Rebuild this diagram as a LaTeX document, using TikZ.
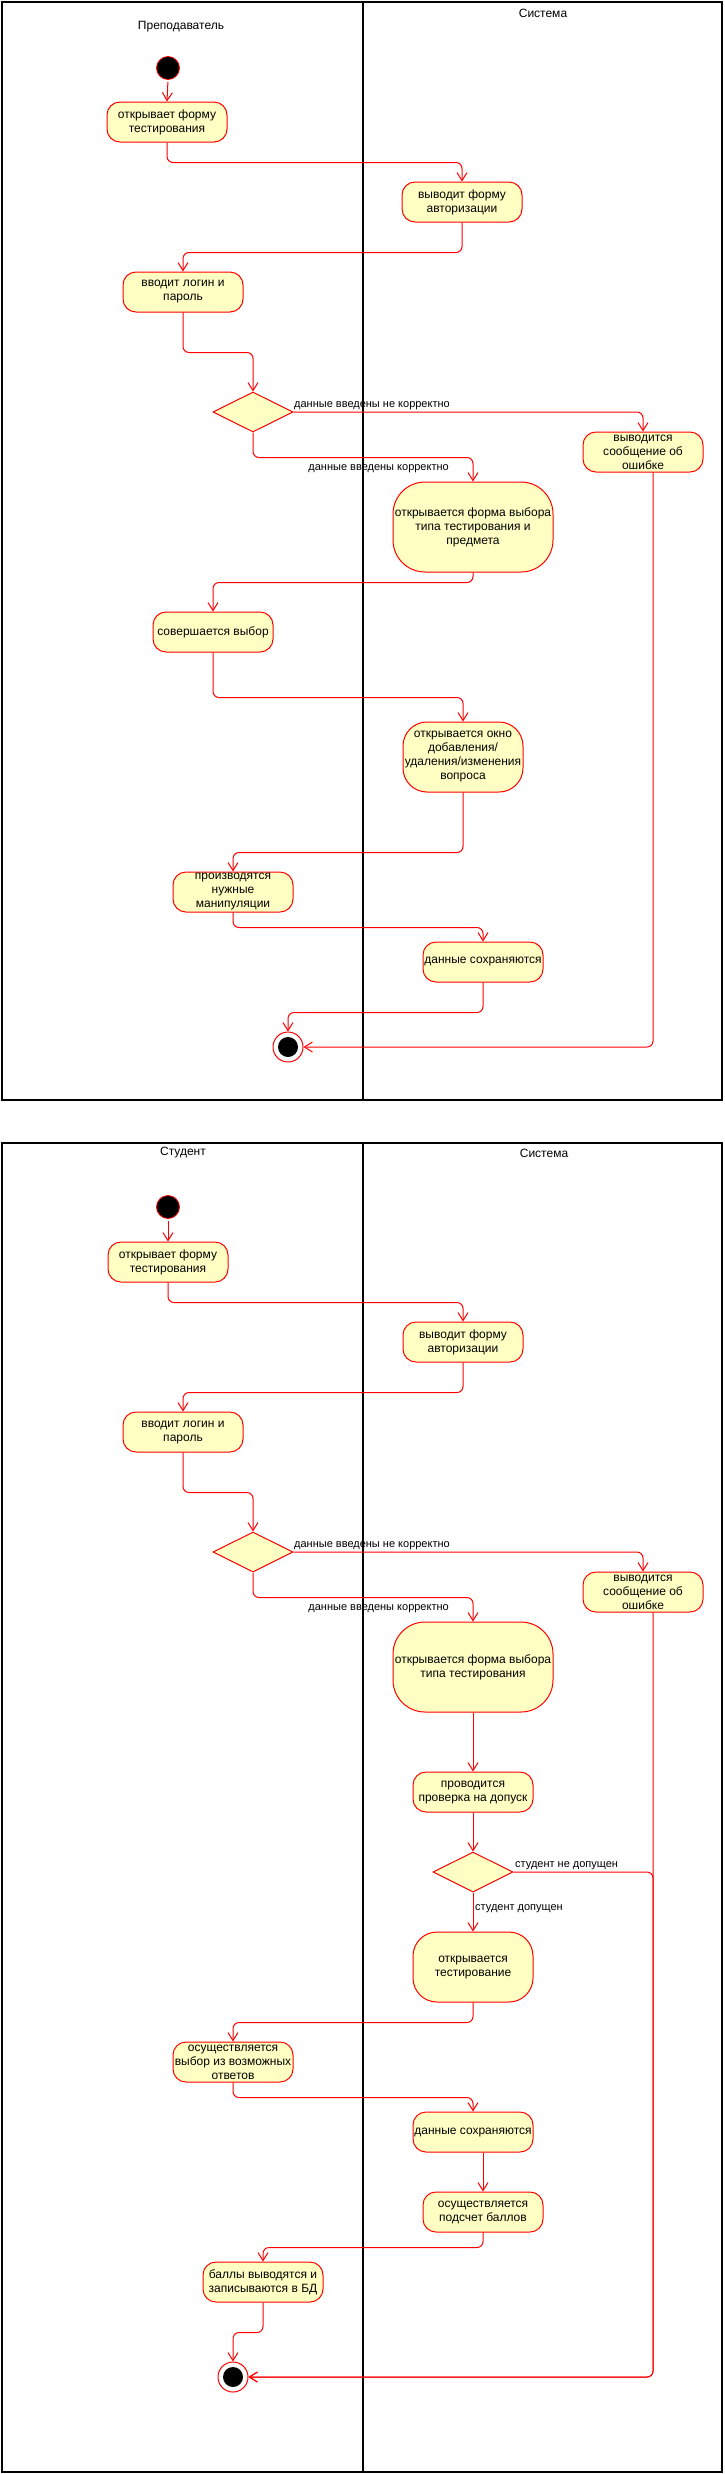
\documentclass[tikz,border=0pt]{standalone}
\usepackage{fontspec}
\setmainfont{Liberation Sans}
\usetikzlibrary{shapes.geometric,arrows.meta}
\definecolor{actfill}{HTML}{FFFFC4}
\newcommand\bxf{\fontsize{12}{14}\selectfont}
\newcommand\lbf{\fontsize{11}{13}\selectfont}
\newcommand\hdf{\fontsize{12}{14}\selectfont}
\begin{document}
\begin{tikzpicture}[x=1pt,y=-1pt,
  act/.style={draw=red, fill=actfill, line width=1pt, align=center, inner sep=0pt, font=\bxf, text=black},
  a40/.style={act, minimum width=120pt, minimum height=40pt, rounded corners=13pt},
  a70/.style={act, minimum width=120pt, minimum height=70pt, rounded corners=24pt},
  a90/.style={act, minimum width=160pt, minimum height=90pt, rounded corners=32pt},
  dec/.style={diamond, draw=red, fill=actfill, line width=1pt, minimum width=80pt, minimum height=40pt, inner sep=0pt, aspect=2},
  startn/.style={circle, fill=black, draw=red, line width=0.8pt, minimum size=23pt, inner sep=0pt},
  fin/.style={circle, draw=red, fill=white, line width=1pt, minimum size=30pt, inner sep=0pt,
    path picture={\fill[black] (path picture bounding box.center) circle (10pt);}},
  flow/.style={draw=red, line width=1pt, rounded corners=6pt, -{Straight Barb[length=8pt,width=10pt]}},
  lbl/.style={font=\lbf, text=black, inner sep=0pt},
  hdr/.style={font=\hdf, text=black, inner sep=0pt},
  lane/.style={draw=black, line width=1.2pt}
]
\useasboundingbox (0,0) rectangle (724,2474);
\fill[white] (0,0) rectangle (724,2474);

% ---------- top diagram ----------
\draw[lane] (2,2) rectangle (722,1100);
\draw[lane] (363,2) -- (363,1100);
\node[hdr] (h1) at (181,27) {Преподаватель};
\node[hdr] (h2) at (543,13) {Система};

\node[startn] (s1) at (168,68) {};
\node[a40] (a1) at (167,122) {открывает форму\\тестирования};
\node[a40] (a2) at (462,202) {выводит форму\\авторизации};
\node[a40] (a3) at (183,292) {вводит логин и\\пароль};
\node[dec] (d1) at (253,412) {};
\node[a40] (err) at (643,452) {выводится\\сообщение об\\ошибке};
\node[a90] (a4) at (473,527) {открывается форма выбора\\типа тестирования и\\предмета};
\node[a40] (a5) at (213,632) {совершается выбор};
\node[a70] (a6) at (463,757) {открывается окно\\добавления/\\удаления/изменения\\вопроса};
\node[a40] (a7) at (233,892) {производятся\\нужные\\манипуляции};
\node[a40] (a8) at (483,962) {данные сохраняются};
\node[fin] (f1) at (288,1047) {};

\draw[flow, shorten <=2pt] (s1.south) -- (a1.north);
\draw[flow] (a1.south) -- ++(0,20) -| (a2.north);
\draw[flow] (a2.south) -- ++(0,30) -| (a3.north);
\draw[flow] (a3.south) -- ++(0,40) -| (d1.north);
\draw[flow] (d1.east) -| (err.north);
\node[lbl, anchor=base west] (l1) at (294,407) {данные введены не корректно};
\draw[flow] (d1.south) -- ++(0,25) -| (a4.north);
\node[lbl, anchor=base east] (l2) at (449,470) {данные введены корректно};
\draw[flow] (a4.south) -- ++(0,10) -| (a5.north);
\draw[flow] (a5.south) -- ++(0,45) -| (a6.north);
\draw[flow] (a6.south) -- ++(0,60) -| (a7.north);
\draw[flow] (a7.south) -- ++(0,15) -| (a8.north);
\draw[flow] (a8.south) -- ++(0,30) -| (f1.north);
\draw[flow] ([xshift=10pt]err.south) |- (f1.east);

% ---------- bottom diagram ----------
\draw[lane] (2,1143) rectangle (722,2472);
\draw[lane] (363,1143) -- (363,2472);
\node[hdr] (h3) at (183,1153) {Студент};
\node[hdr] (h4) at (544,1153) {Система};

\node[startn] (s2) at (168,1207) {};
\node[a40] (b1) at (168,1262) {открывает форму\\тестирования};
\node[a40] (b2) at (463,1342) {выводит форму\\авторизации};
\node[a40] (b3) at (183,1432) {вводит логин и\\пароль};
\node[dec] (d2) at (253,1552) {};
\node[a40] (err2) at (643,1592) {выводится\\сообщение об\\ошибке};
\node[a90] (b4) at (473,1667) {открывается форма выбора\\типа тестирования};
\node[a40] (b5) at (473,1792) {проводится\\проверка на допуск};
\node[dec] (d3) at (473,1872) {};
\node[a70] (b6) at (473,1967) {открывается\\тестирование};
\node[a40] (b7) at (233,2062) {осуществляется\\выбор из возможных\\ответов};
\node[a40] (b8) at (473,2132) {данные сохраняются};
\node[a40] (b9) at (483,2212) {осуществляется\\подсчет баллов};
\node[a40] (b10) at (263,2282) {баллы выводятся и\\записываются в БД};
\node[fin] (f2) at (233,2377) {};
\coordinate (nj) at (653,1872);

\draw[flow, shorten <=2pt] (s2.south) -- (b1.north);
\draw[flow] (b1.south) -- ++(0,20) -| (b2.north);
\draw[flow] (b2.south) -- ++(0,30) -| (b3.north);
\draw[flow] (b3.south) -- ++(0,40) -| (d2.north);
\draw[flow] (d2.east) -| (err2.north);
\node[lbl, anchor=base west] (l3) at (294,1547) {данные введены не корректно};
\draw[flow] (d2.south) -- ++(0,25) -| (b4.north);
\node[lbl, anchor=base east] (l4) at (449,1610) {данные введены корректно};
\draw[flow] ([xshift=10pt]err2.south) |- (f2.east);
\draw[flow] (b4.south) -- (b5.north);
\draw[flow] (b5.south) -- (d3.north);
\draw[flow] (d3.east) -- (nj) |- (f2.east);
\node[lbl, anchor=base west] (l5) at (515,1867) {студент не допущен};
\draw[flow] (d3.south) -- (b6.north);
\node[lbl, anchor=base west] (l6) at (475,1910) {студент допущен};
\draw[flow] (b6.south) -- ++(0,20) -| (b7.north);
\draw[flow] (b7.south) -- ++(0,15) -| (b8.north);
\draw[flow] ([xshift=10pt]b8.south) -- (b9.north);
\draw[flow] (b9.south) -- ++(0,15) -| (b10.north);
\draw[flow] (b10.south) -- ++(0,30) -| (f2.north);
\end{tikzpicture}
\end{document}
